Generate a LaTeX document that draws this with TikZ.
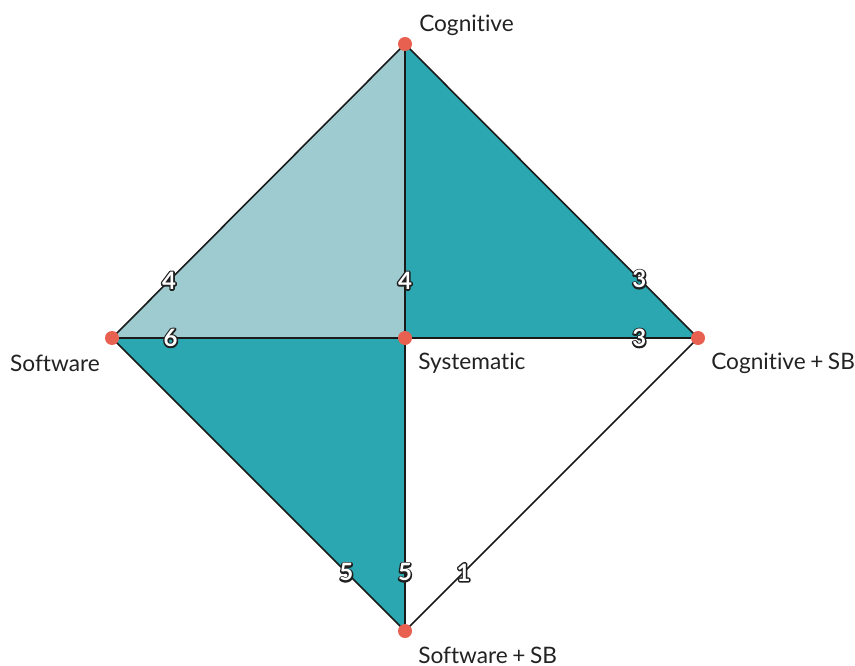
\documentclass[tikz,border=0pt]{standalone}
\usepackage{fontspec}
\setmainfont[Ligatures=NoCommon]{Lato}
\definecolor{lightteal}{HTML}{9DCBD0}
\definecolor{teal}{HTML}{2AA7B0}
\definecolor{dotred}{HTML}{E8604F}
\definecolor{edgeblk}{HTML}{1A1A1A}
\definecolor{txt}{HTML}{222222}
\newcommand{\outl}[1]{\rlap{\special{pdf:literal direct 1 Tr 2.2 w 0.12 0.12 0.12 RG 1 J 1 j}#1\special{pdf:literal direct 0 Tr}}\textcolor{white}{#1}}
\newcommand{\labfont}{\fontsize{17}{20}\selectfont\spaceskip=0.2em\relax}
\begin{document}
\begin{tikzpicture}[x=0.75pt,y=-0.75pt,
  dot/.style={circle,fill=dotred,inner sep=0pt,minimum size=10.5pt},
  edge/.style={draw=edgeblk,line width=1.2pt},
  lab/.style={font=\labfont,text=txt,inner sep=0pt},
  num/.style={font=\fontsize{18}{20}\selectfont\bfseries,inner sep=0pt}
]
\useasboundingbox (0,0) rectangle (855,666);
\coordinate (C) at (405,44);
\coordinate (S) at (112,338);
\coordinate (M) at (405,338);
\coordinate (CS) at (698,338);
\coordinate (SS) at (405,631);
\fill[lightteal] (C) -- (S) -- (M) -- cycle;
\fill[teal] (C) -- (M) -- (CS) -- cycle;
\fill[teal] (S) -- (M) -- (SS) -- cycle;
\draw[edge] (S) -- node[num,pos=0.195]{\outl{4}} (C);
\draw[edge] (M) -- node[num,pos=0.195]{\outl{4}} (C);
\draw[edge] (S) -- node[num,pos=0.2]{\outl{6}} (M);
\draw[edge] (CS) -- node[num,pos=0.2]{\outl{3}} (C);
\draw[edge] (CS) -- node[num,pos=0.2]{\outl{3}} (M);
\draw[edge] (SS) -- node[num,pos=0.2]{\outl{5}} (S);
\draw[edge] (SS) -- node[num,pos=0.2]{\outl{5}} (M);
\draw[edge] (SS) -- node[num,pos=0.2]{\outl{1}} (CS);
\node[dot] (nC) at (C) {};
\node[dot] (nS) at (S) {};
\node[dot] (nM) at (M) {};
\node[dot] (nCS) at (CS) {};
\node[dot] (nSS) at (SS) {};
\node[lab,anchor=west] (tC) at (419,25.5) {Cognitive};
\node[lab,anchor=east] (tS) at (100,363) {Software};
\node[lab,anchor=west] (tM) at (418,363) {Systematic};
\node[lab,anchor=west] (tCS) at (711,363) {Cognitive + SB};
\node[lab,anchor=west] (tSS) at (418,655) {Software + SB};
\end{tikzpicture}
\end{document}
